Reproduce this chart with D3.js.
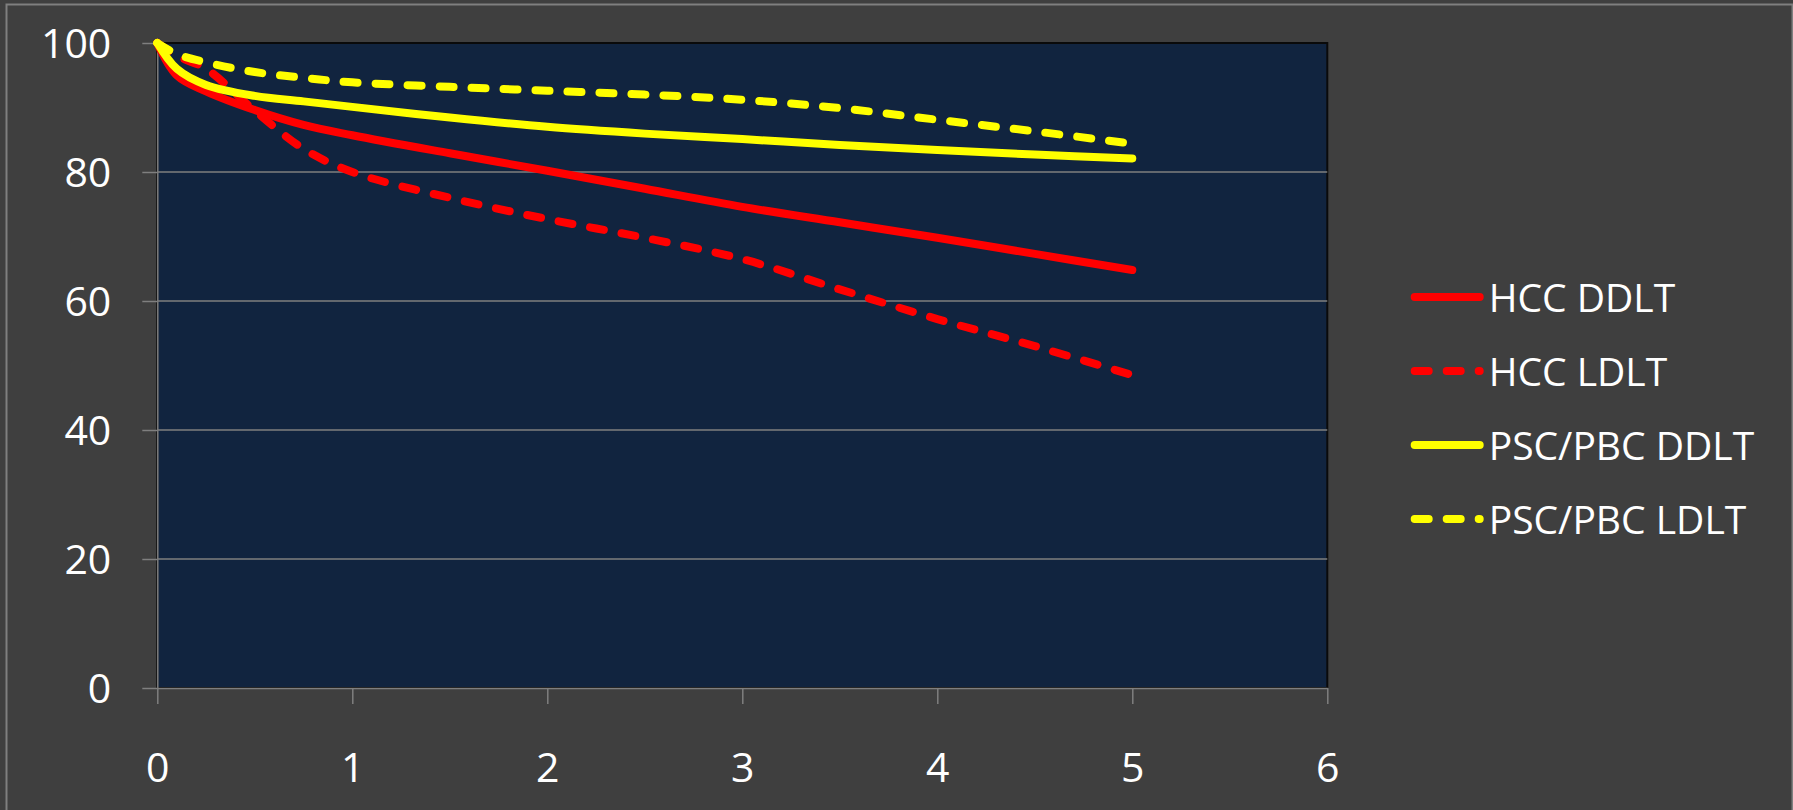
<!DOCTYPE html>
<html>
<head>
<meta charset="utf-8">
<script src="https://cdn.jsdelivr.net/npm/d3@7"></script>
<style>
  body { margin: 0; background: #3f3f3f; }
  svg { display: block; font-family: "Open Sans", "Noto Sans", sans-serif; }
</style>
</head>
<body>
<svg id="chart" width="1793" height="810"></svg>
<script>
// survival (%) by years after transplant
const years = [0, 0.1, 0.25, 0.5, 0.75, 1, 1.5, 2, 2.5, 3, 3.5, 4, 4.5, 5];
const hccDDLT = [100, 95.0, 92.5, 89.6, 87.3, 85.7, 82.9, 80.2, 77.4, 74.6, 72.2, 69.8, 67.3, 64.8];
const hccLDLT = [100, 98.0, 96.0, 89.5, 83.6, 80.0, 76.0, 72.7, 69.8, 66.5, 61.8, 57.2, 53.0, 48.5];
const pscDDLT = [100, 96.0, 93.5, 91.8, 90.95, 90.1, 88.45, 87.0, 85.95, 85.1, 84.2, 83.4, 82.7, 82.1];
const pscLDLT = [100, 98.3, 97.0, 95.5, 94.6, 93.9, 93.2, 92.6, 92.0, 91.2, 89.9, 88.1, 86.3, 84.4];

const seriesNames = ["HCC DDLT", "HCC LDLT", "PSC/PBC DDLT", "PSC/PBC LDLT"];
const seriesValues = [hccDDLT, hccLDLT, pscDDLT, pscLDLT];
const seriesColors = ["#ff0000", "#ff0000", "#ffff00", "#ffff00"];
const seriesDashed = [false, true, false, true];

const xTicks = [0, 1, 2, 3, 4, 5, 6];
const yTicks = [0, 20, 40, 60, 80, 100];

const svg = d3.select("#chart");

// outer chart frame
svg.append("rect")
  .attr("x", 6.5).attr("y", 4.5)
  .attr("width", 1786).attr("height", 830)
  .attr("fill", "#3f3f3f")
  .attr("stroke", "#7f7f7f")
  .attr("stroke-width", 2);

const plot = { left: 157.3, right: 1327.3, top: 43, bottom: 688 };

const x = d3.scaleLinear().domain([0, 6]).range([plot.left, plot.right]);
const y = d3.scaleLinear().domain([0, 100]).range([plot.bottom, plot.top]);

// plot area
svg.append("rect")
  .attr("x", plot.left).attr("y", plot.top)
  .attr("width", plot.right - plot.left).attr("height", plot.bottom - plot.top)
  .attr("fill", "#11243f")
  .attr("stroke", "#0a0a0a")
  .attr("stroke-width", 2);

// gridlines
svg.append("g")
  .selectAll("line")
  .data(yTicks.filter(d => d > 0 && d < 100))
  .enter().append("line")
    .attr("x1", plot.left).attr("x2", plot.right)
    .attr("y1", d => y(d)).attr("y2", d => y(d))
    .attr("stroke", "#7f7f7f")
    .attr("stroke-width", 1.5);

// axes
const yAxis = svg.append("g")
  .attr("transform", `translate(${plot.left},0)`)
  .call(d3.axisLeft(y).tickValues(yTicks).tickSize(15).tickSizeOuter(0).tickPadding(31));

const xAxis = svg.append("g")
  .attr("transform", `translate(0,${plot.bottom})`)
  .call(d3.axisBottom(x).tickValues(xTicks).tickSize(16).tickSizeOuter(0).tickFormat(d3.format("d")));

[yAxis, xAxis].forEach(ax => {
  ax.select(".domain").attr("stroke", "#7f7f7f").attr("stroke-width", 1.5);
  ax.selectAll(".tick line").attr("stroke", "#7f7f7f").attr("stroke-width", 1.5);
  ax.selectAll(".tick text")
    .attr("fill", "#ffffff")
    .style("font-size", "41px")
    .style("font-family", "'Open Sans', 'Noto Sans', sans-serif");
});
yAxis.selectAll(".tick text").attr("dy", "0.36em");
xAxis.selectAll(".tick text").attr("y", 94).attr("dy", 0);

// lines
const line = d3.line()
  .x(d => x(d[0]))
  .y(d => y(d[1]))
  .curve(d3.curveCatmullRom.alpha(0.5));

const lines = svg.append("g");
seriesValues.forEach((vals, i) => {
  lines.append("path")
    .datum(years.map((t, j) => [t, vals[j]]))
    .attr("d", line)
    .attr("fill", "none")
    .attr("stroke", seriesColors[i])
    .attr("stroke-width", 8)
    .attr("stroke-linecap", "round")
    .attr("stroke-linejoin", "round")
    .attr("stroke-dasharray", seriesDashed[i] ? "14,18" : null);
});

// legend
const legend = svg.append("g").attr("transform", "translate(1414.7,297)");
const items = legend.selectAll("g")
  .data(seriesNames)
  .enter().append("g")
    .attr("transform", (d, i) => `translate(0,${i * 74})`);

items.append("line")
  .attr("x1", 0).attr("x2", 65)
  .attr("stroke", (d, i) => seriesColors[i])
  .attr("stroke-width", 8)
  .attr("stroke-linecap", "round")
  .attr("stroke-dasharray", (d, i) => seriesDashed[i] ? "14,18" : null);

items.append("text")
  .attr("x", 74)
  .attr("y", 14.5)
  .attr("fill", "#ffffff")
  .style("font-size", "39px")
  .text(d => d);
</script>
</body>
</html>
